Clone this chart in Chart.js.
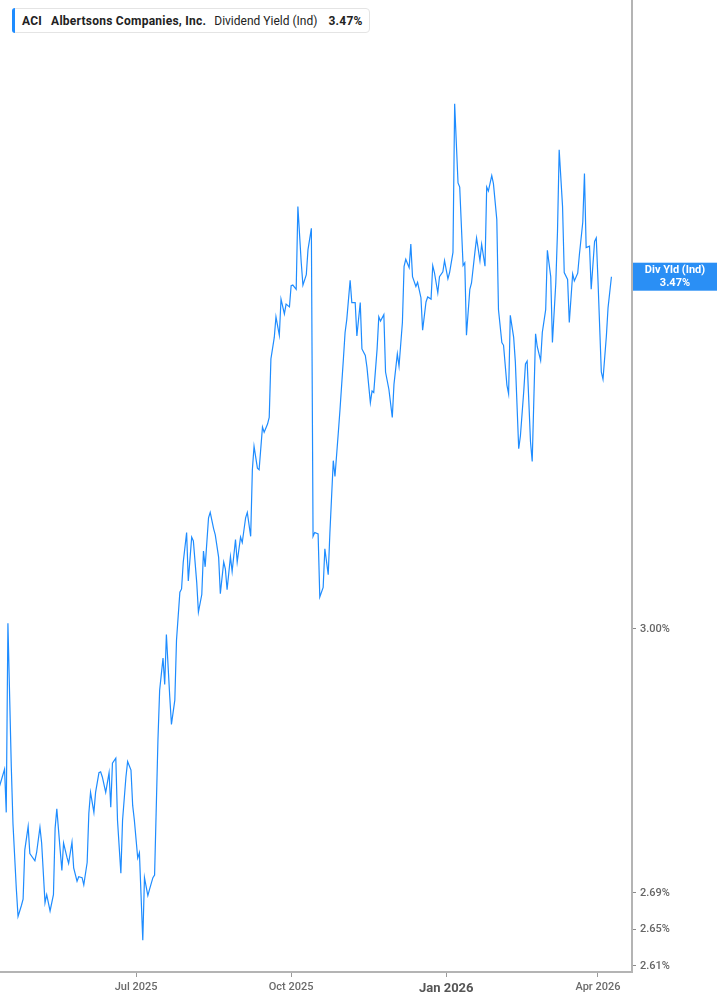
<!DOCTYPE html>
<html>
<head>
<meta charset="utf-8">
<script src="https://cdn.jsdelivr.net/npm/chart.js@4.4.1/dist/chart.umd.min.js"></script>
<style>
  html, body { margin: 0; padding: 0; background: #fff; }
  #wrap { position: relative; width: 717px; height: 1005px; }
  #legend {
    position: absolute; left: 12px; top: 8px; height: 25px;
    border: 1px solid #e4e4e4; border-radius: 4px; background: #fff;
    font-family: Roboto, "Noto Sans", sans-serif; font-size: 12px; color: #222;
    display: flex; align-items: center; padding: 0 6px 0 9px; box-sizing: border-box; white-space: nowrap;
  }
  #legend::before {
    content: ""; position: absolute; left: -1px; top: -1px; bottom: -1px; width: 3px;
    background: #1e8cff; border-radius: 3px 0 0 3px;
  }
  #legend .b { font-weight: 700; letter-spacing: 0.25px; }
  #legend .g1 { display: inline-block; width: 9px; }
  #legend .g2 { display: inline-block; width: 8px; }
  #legend .g3 { display: inline-block; width: 11px; }
</style>
</head>
<body>
<div id="wrap">
  <canvas id="c" width="717" height="1005"></canvas>
  <div id="legend"></div>
</div>
<script>
// ---- Data ----
const ticker = "ACI";
const companyName = "Albertsons Companies, Inc.";
const metricName = "Dividend Yield (Ind)";
const tagName = "Div Yld (Ind)";

const dates = [
"2025-04-11","2025-04-14","2025-04-15","2025-04-16","2025-04-18","2025-04-19","2025-04-21","2025-04-22","2025-04-24","2025-04-25",
"2025-04-26","2025-04-28","2025-04-29","2025-05-02","2025-05-03","2025-05-05","2025-05-06","2025-05-08","2025-05-09","2025-05-11",
"2025-05-13","2025-05-14","2025-05-15","2025-05-17","2025-05-18","2025-05-19","2025-05-21","2025-05-22","2025-05-24","2025-05-25",
"2025-05-27","2025-05-28","2025-05-30","2025-05-31","2025-06-02","2025-06-03","2025-06-04","2025-06-06","2025-06-07","2025-06-09",
"2025-06-10","2025-06-11","2025-06-13","2025-06-15","2025-06-16","2025-06-17","2025-06-19","2025-06-20","2025-06-22","2025-06-23",
"2025-06-25","2025-06-26","2025-06-28","2025-06-29","2025-06-30","2025-07-02","2025-07-03","2025-07-05","2025-07-06","2025-07-08",
"2025-07-09","2025-07-11","2025-07-12","2025-07-14","2025-07-15","2025-07-17","2025-07-18","2025-07-19","2025-07-21","2025-07-22",
"2025-07-24","2025-07-25","2025-07-27","2025-07-28","2025-07-29","2025-07-31","2025-08-01","2025-08-03","2025-08-04","2025-08-06",
"2025-08-07","2025-08-09","2025-08-10","2025-08-11","2025-08-13","2025-08-14","2025-08-16","2025-08-17","2025-08-19","2025-08-20",
"2025-08-22","2025-08-23","2025-08-24","2025-08-26","2025-08-27","2025-08-29","2025-08-30","2025-09-01","2025-09-02","2025-09-04",
"2025-09-05","2025-09-07","2025-09-08","2025-09-09","2025-09-11","2025-09-12","2025-09-14","2025-09-15","2025-09-17","2025-09-18",
"2025-09-19","2025-09-21","2025-09-22","2025-09-24","2025-09-25","2025-09-27","2025-09-28","2025-09-30","2025-10-01","2025-10-02",
"2025-10-04","2025-10-05","2025-10-07","2025-10-08","2025-10-10","2025-10-11","2025-10-13","2025-10-14","2025-10-15","2025-10-17",
"2025-10-18","2025-10-20","2025-10-21","2025-10-23","2025-10-24","2025-10-26","2025-10-27","2025-10-29","2025-10-30","2025-11-01",
"2025-11-02","2025-11-03","2025-11-05","2025-11-06","2025-11-08","2025-11-09","2025-11-11","2025-11-12","2025-11-14","2025-11-15",
"2025-11-17","2025-11-18","2025-11-19","2025-11-21","2025-11-22","2025-11-23","2025-11-25","2025-11-26","2025-11-28","2025-11-30",
"2025-12-01","2025-12-03","2025-12-04","2025-12-06","2025-12-07","2025-12-08","2025-12-10","2025-12-11","2025-12-12","2025-12-14",
"2025-12-15","2025-12-17","2025-12-18","2025-12-20","2025-12-21","2025-12-23","2025-12-24","2025-12-25","2025-12-27","2025-12-28",
"2025-12-30","2025-12-31","2026-01-02","2026-01-03","2026-01-05","2026-01-06","2026-01-08","2026-01-09","2026-01-11","2026-01-12",
"2026-01-13","2026-01-15","2026-01-16","2026-01-18","2026-01-19","2026-01-21","2026-01-22","2026-01-24","2026-01-25","2026-01-26",
"2026-01-28","2026-01-29","2026-01-31","2026-02-01","2026-02-03","2026-02-04","2026-02-06","2026-02-07","2026-02-08","2026-02-10",
"2026-02-11","2026-02-13","2026-02-14","2026-02-16","2026-02-17","2026-02-18","2026-02-20","2026-02-21","2026-02-23","2026-02-24",
"2026-02-26","2026-02-27","2026-03-01","2026-03-02","2026-03-04","2026-03-05","2026-03-07","2026-03-08","2026-03-09","2026-03-11",
"2026-03-12","2026-03-14","2026-03-15","2026-03-17","2026-03-18","2026-03-20","2026-03-21","2026-03-23","2026-03-24","2026-03-25",
"2026-03-27","2026-03-28","2026-03-30","2026-03-31","2026-04-01","2026-04-03","2026-04-04","2026-04-06","2026-04-07","2026-04-09"
];

const yieldPct = [
2.811,2.831,2.781,3.007,2.834,2.768,2.694,2.664,2.676,2.683,
2.738,2.765,2.734,2.726,2.735,2.764,2.746,2.679,2.688,2.670,
2.688,2.763,2.785,2.738,2.715,2.746,2.730,2.723,2.747,2.718,
2.703,2.708,2.707,2.699,2.724,2.780,2.804,2.781,2.804,2.827,
2.828,2.822,2.804,2.827,2.787,2.838,2.844,2.772,2.712,2.772,
2.822,2.840,2.830,2.789,2.772,2.729,2.735,2.638,2.707,2.687,
2.694,2.707,2.710,2.866,2.925,2.964,2.932,2.993,2.917,2.884,
2.913,2.986,3.046,3.050,3.084,3.122,3.060,3.116,3.111,3.058,
3.021,3.043,3.098,3.078,3.141,3.148,3.127,3.119,3.090,3.044,
3.084,3.075,3.049,3.091,3.072,3.113,3.084,3.116,3.109,3.141,
3.148,3.117,3.204,3.235,3.206,3.204,3.261,3.254,3.265,3.274,
3.354,3.384,3.413,3.387,3.438,3.417,3.431,3.427,3.457,3.458,
3.452,3.572,3.490,3.458,3.473,3.509,3.540,3.117,3.122,3.120,
3.040,3.052,3.101,3.068,3.122,3.216,3.195,3.254,3.285,3.354,
3.391,3.409,3.465,3.433,3.433,3.386,3.433,3.368,3.359,3.342,
3.294,3.310,3.308,3.368,3.413,3.407,3.416,3.336,3.312,3.274,
3.319,3.361,3.344,3.405,3.485,3.495,3.483,3.517,3.470,3.456,
3.462,3.440,3.394,3.434,3.441,3.438,3.486,3.476,3.447,3.470,
3.477,3.493,3.467,3.476,3.505,3.727,3.607,3.601,3.486,3.490,
3.387,3.452,3.461,3.505,3.526,3.493,3.517,3.485,3.601,3.595,
3.618,3.606,3.553,3.423,3.377,3.373,3.318,3.306,3.415,3.384,
3.350,3.232,3.249,3.310,3.347,3.351,3.241,3.215,3.389,3.371,
3.352,3.391,3.423,3.508,3.470,3.377,3.461,3.535,3.657,3.572,
3.476,3.466,3.405,3.474,3.464,3.475,3.502,3.549,3.621,3.512,
3.514,3.452,3.521,3.526,3.466,3.336,3.326,3.386,3.426,3.470
];

const xTickDates = ["2025-07-01", "2025-10-01", "2026-01-01", "2026-04-01"];
const xTickLabels = ["Jul 2025", "Oct 2025", "Jan 2026", "Apr 2026"];
const yTickValues = [2.61, 2.65, 2.69, 3.00];

// ---- Helpers ----
const dayNum = s => Date.UTC(+s.slice(0, 4), +s.slice(5, 7) - 1, +s.slice(8, 10)) / 864e5;
const points = dates.map((d, i) => ({ x: dayNum(d), y: yieldPct[i] }));
const lastVal = yieldPct[yieldPct.length - 1];
const fmtPct = v => v.toFixed(2) + '%';
const FONT = 'Roboto, "Noto Sans", sans-serif';

document.getElementById('legend').innerHTML =
  '<span class="b">' + ticker + '</span><span class="g1"></span><span class="b">' + companyName +
  '</span><span class="g2"></span><span>' + metricName + '</span><span class="g3"></span><span class="b">' + fmtPct(lastVal) + '</span>';

const LINE = '#1e8cff';

const tagPlugin = {
  id: 'lastTag',
  afterDraw(chart) {
    const y = chart.scales.y.getPixelForValue(lastVal);
    const ctx = chart.ctx;
    const left = chart.chartArea.right + 1, right = chart.width;
    ctx.save();
    ctx.fillStyle = '#2a8ff5';
    ctx.fillRect(left, y - 14, right - left, 28);
    ctx.fillStyle = '#fff';
    ctx.textAlign = 'center';
    ctx.textBaseline = 'middle';
    ctx.font = '700 11px ' + FONT;
    const cx = (left + right) / 2;
    ctx.fillText(tagName, cx, y - 6);
    ctx.fillText(fmtPct(lastVal), cx, y + 7);
    ctx.restore();
  }
};

new Chart(document.getElementById('c'), {
  type: 'line',
  data: {
    datasets: [{
      data: points,
      borderColor: LINE,
      borderWidth: 1.2,
      pointRadius: 0,
      tension: 0,
      fill: false
    }]
  },
  options: {
    responsive: false,
    animation: false,
    devicePixelRatio: 1,
    layout: { padding: 0 },
    plugins: { legend: { display: false }, tooltip: { enabled: false } },
    scales: {
      x: {
        type: 'linear',
        min: dayNum('2025-04-11') + 0.3,
        max: dayNum('2026-04-21') + 0.2,
        afterBuildTicks(scale) { scale.ticks = xTickDates.map(d => ({ value: dayNum(d) })); },
        afterFit(scale) { scale.height = 33; scale.paddingLeft = 0; scale.paddingRight = 0; },
        grid: { drawOnChartArea: false, drawTicks: true, tickLength: 5, color: '#9a9a9a' },
        border: { display: true, color: '#b4b4b4', width: 2 },
        ticks: {
          autoSkip: false, maxRotation: 0, padding: 4,
          callback: (v, i) => xTickLabels[i],
          color: ctx => ctx.index === 2 ? '#555' : '#6b6b6b',
          font: ctx => ctx.index === 2
            ? { family: FONT, size: 13, weight: '700' }
            : { family: FONT, size: 11, weight: '500' }
        }
      },
      y: {
        type: 'logarithmic',
        position: 'right',
        bounds: 'data',
        min: 2.6035,
        max: 3.8903,
        afterBuildTicks(scale) { scale.ticks = yTickValues.map(v => ({ value: v })); },
        afterFit(scale) { scale.width = 85; scale.paddingTop = 0; scale.paddingBottom = 0; },
        grid: { drawOnChartArea: false, drawTicks: true, tickLength: 4, color: '#8a8a8a' },
        border: { display: true, color: '#b4b4b4', width: 2 },
        ticks: {
          autoSkip: false, padding: 4,
          callback: v => fmtPct(v),
          color: '#666',
          font: { family: FONT, size: 11, weight: '500' }
        }
      }
    }
  },
  plugins: [tagPlugin]
});
</script>
</body>
</html>
